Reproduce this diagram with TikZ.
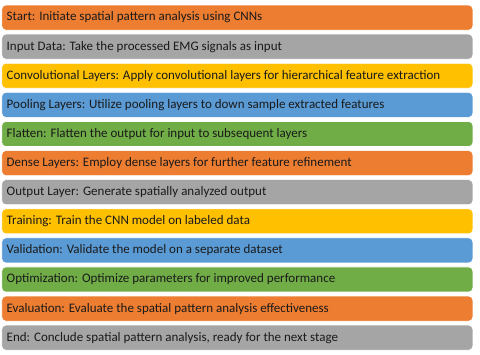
\documentclass[tikz,border=0pt]{standalone}
\usepackage{fontspec}
\setmainfont{Carlito}
\definecolor{cOrange}{HTML}{ED7D31}
\definecolor{cGray}{HTML}{A5A5A5}
\definecolor{cYellow}{HTML}{FFC000}
\definecolor{cBlue}{HTML}{5B9BD5}
\definecolor{cGreen}{HTML}{70AD47}
\definecolor{cText}{HTML}{1A1A1A}
\begin{document}
\begin{tikzpicture}[x=1pt,y=-1pt,
  bar/.style={draw=white, line width=0.6pt, rounded corners=4pt, minimum width=471pt, minimum height=25pt, anchor=north west, inner sep=0pt},
  lbl/.style={anchor=west, inner sep=0pt, text=cText, font=\fontsize{13}{15}\selectfont}]
\useasboundingbox (0,0) rectangle (480,355);
\foreach \i/\c/\t in {
 0/cOrange/{Start: Initiate spatial pattern analysis using CNNs},
 1/cGray/{Input Data: Take the processed EMG signals as input},
 2/cYellow/{Convolutional Layers: Apply convolutional layers for hierarchical feature extraction},
 3/cBlue/{Pooling Layers: Utilize pooling layers to down sample extracted features},
 4/cGreen/{Flatten: Flatten the output for input to subsequent layers},
 5/cOrange/{Dense Layers: Employ dense layers for further feature refinement},
 6/cGray/{Output Layer: Generate spatially analyzed output},
 7/cYellow/{Training: Train the CNN model on labeled data},
 8/cBlue/{Validation: Validate the model on a separate dataset},
 9/cGreen/{Optimization: Optimize parameters for improved performance},
 10/cOrange/{Evaluation: Evaluate the spatial pattern analysis effectiveness},
 11/cGray/{End: Conclude spatial pattern analysis, ready for the next stage}} {
  \node[bar, fill=\c] (b\i) at (1.5, {4.8+\i*29.1}) {};
  \node[lbl] (t\i) at ([xshift=5pt]b\i.west) {\t};
}
\end{tikzpicture}
\end{document}
